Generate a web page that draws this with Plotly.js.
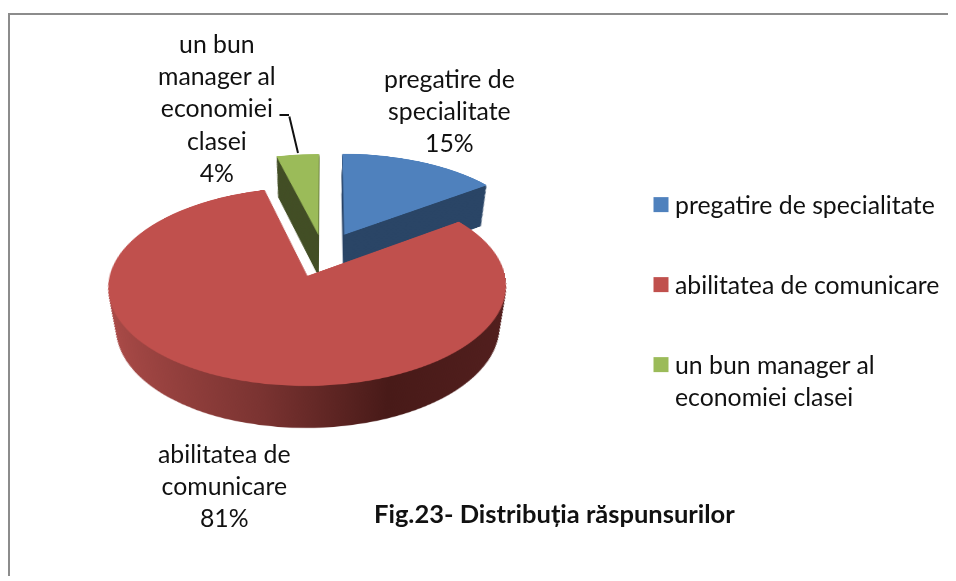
<!DOCTYPE html>
<html><head><meta charset="utf-8">
<script src="https://cdn.plot.ly/plotly-3.0.1.min.js"></script>
<style>
html,body{margin:0;padding:0;background:#fff;overflow:hidden}
#frame{position:absolute;left:8px;top:13px;width:940px;height:563px;border-left:2px solid #8c8c8c;border-top:2px solid #8c8c8c;box-sizing:border-box}
#chart{position:absolute;left:0;top:0;width:956px;height:581px}
</style></head><body>
<div id="frame"></div>
<div id="chart"></div>
<script>
const categories=['pregatire de specialitate','abilitatea de comunicare','un bun manager al<br>economiei clasei'];
const values=[15,81,4];
const topColors=['#4f81bd','#c0504d','#9bbb59'];
const wallColors=['#2a4566','#7a2f2d','#434f26'];
const pullFractions=[0.24,0.24,0.21];
const dataLabels=[
 {text:'pregatire de<br>specialitate<br>15%',x:449,y:110},
 {text:'abilitatea de<br>comunicare<br>81%',x:224,y:485},
 {text:'un bun<br>manager al<br>economiei<br>clasei<br>4%',x:217,y:108}
];
const titleText='Fig.23- Distribuția răspunsurilor';
const layerCount=47, layerStep=1.75, shrinkTotal=0.08;
const W=956,H=581;
const pieTop=14, pieSize=479, pieLeft=84;
const font='Lato, Carlito, sans-serif';
const fs=24.8;
const traces=[];
for(let i=layerCount;i>=0;i--){
  const off=i*layerStep;
  const sz=pieSize*(1-shrinkTotal*i/layerCount);
  const cx=pieLeft+pieSize/2, cy=pieTop+pieSize/2+off;
  traces.push({
    type:'pie',labels:categories,values:values,sort:false,direction:'clockwise',rotation:0,
    pull:pullFractions,textinfo:'none',hoverinfo:'label+percent',
    showlegend:i===0,
    marker:{colors:i===0?topColors:wallColors,line:{width:0}},
    domain:{x:[(cx-sz/2)/W,(cx+sz/2)/W],y:[1-(cy+sz/2)/H,1-(cy-sz/2)/H]}
  });
}
const annotations=dataLabels.map(d=>({xref:'paper',yref:'paper',x:d.x/W,y:1-d.y/H,text:d.text,showarrow:false,
  font:{family:font,size:fs,color:'#111'},xanchor:'center',yanchor:'middle',align:'center'}));
annotations.push({xref:'paper',yref:'paper',x:554/W,y:1-513/H,text:'<b>'+titleText+'</b>',showarrow:false,
  font:{family:font,size:25.5,color:'#111'},xanchor:'center',yanchor:'middle'});
annotations.push({xref:'paper',yref:'paper',x:298/W,y:1-153/H,ax:-9,ay:-38,text:'',showarrow:true,arrowhead:0,arrowwidth:2,arrowcolor:'#111'});
annotations.push({xref:'paper',yref:'paper',x:289/W,y:1-115/H,ax:-11,ay:0,text:'',showarrow:true,arrowhead:0,arrowwidth:2,arrowcolor:'#111'});
const layout={width:W,height:H,margin:{l:0,r:0,t:0,b:0},paper_bgcolor:'rgba(0,0,0,0)',
  showlegend:true,
  legend:{x:635/W,y:1-182/H,xanchor:'left',yanchor:'top',font:{family:font,size:fs,color:'#111'},bgcolor:'rgba(0,0,0,0)',itemclick:false},
  annotations:annotations};
Plotly.newPlot('chart',traces,layout,{displayModeBar:false,staticPlot:true}).then(gd=>{
  const paper=gd.querySelectorAll('svg.main-svg')[0];
  const ns='http://www.w3.org/2000/svg';
  const defs=paper.querySelector('defs')||paper.insertBefore(document.createElementNS(ns,'defs'),paper.firstChild);
  const g=document.createElementNS(ns,'linearGradient');
  g.setAttribute('id','redWall');
  g.setAttribute('x1','0');g.setAttribute('x2','1');g.setAttribute('y1','0');g.setAttribute('y2','0');
  [['0','#ab4b48'],['0.4','#7a3331'],['0.69','#481a18'],['1','#521f1e']].forEach(s=>{
    const e=document.createElementNS(ns,'stop');e.setAttribute('offset',s[0]);e.setAttribute('stop-color',s[1]);g.appendChild(e);});
  defs.appendChild(g);
  const tr=paper.querySelectorAll('.pielayer .trace');
  tr.forEach((t,i)=>{ if(i<tr.length-1){const ss=t.querySelectorAll('.slice path.surface');
     if(ss[1]) ss[1].style.fill='url(#redWall)';}});
  paper.style.transformOrigin='325px 255px';
  paper.style.transform='perspective(1600px) rotateX(61deg)';
  // legend: open up the spacing, as the reference has it
  const sb=gd.querySelector('.legend .scrollbox'); if(sb) sb.removeAttribute('clip-path');
  const lg=gd.querySelectorAll('.legend .traces');
  const firstY=parseFloat((lg[0].getAttribute('transform').match(/,\s*([-\d.]+)/)||[0,0])[1]);
  const steps=[0,80,160];
  lg.forEach((t,i)=>{
    t.setAttribute('transform','translate(0,'+(firstY+steps[i])+')');
    const sym=t.querySelector('.legendpie');
    if(sym) sym.setAttribute('transform','translate(26,0) scale(1.25)');
    if(i===2){const tg=t.querySelector('.legendtext'); if(tg) tg.setAttribute('transform','translate(0,16)');}
  });
  const bg=gd.querySelector('.legend .bg'); if(bg) bg.style.display='none';
});
</script>
</body></html>
